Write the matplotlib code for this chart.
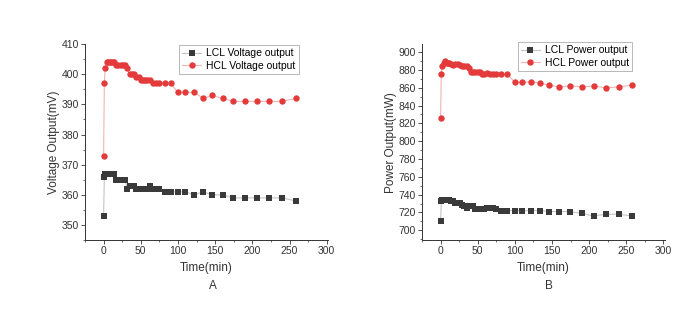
import matplotlib
matplotlib.use('Agg')
import matplotlib.pyplot as plt
from matplotlib.ticker import MultipleLocator

plt.rcParams['font.family'] = ['Liberation Sans', 'DejaVu Sans']

# Tempo das medidas (min)
tempo = [0, 1, 2, 4, 6, 8, 10, 12, 14, 17, 20, 23, 26, 29, 32, 35, 38, 41, 44, 47, 50,
         53, 56, 59, 62, 66, 70, 75, 82, 90, 100, 110, 122, 134, 146, 160, 174, 190,
         206, 222, 240, 258]

# Tensão (mV)
lcl_tensao = [353, 366, 367, 367, 367, 367, 367, 367, 367, 365, 365, 365, 365, 365, 362,
              363, 363, 363, 362, 362, 362, 362, 362, 362, 363, 362, 362, 362, 361, 361,
              361, 361, 360, 361, 360, 360, 359, 359, 359, 359, 359, 358]
hcl_tensao = [373, 397, 402, 404, 404, 404, 404, 404, 404, 403, 403, 403, 403, 403, 402,
              400, 400, 400, 399, 399, 398, 398, 398, 398, 398, 397, 397, 397, 397, 397,
              394, 394, 394, 392, 393, 392, 391, 391, 391, 391, 391, 392]

# Potência (mW)
lcl_potencia = [710, 733, 734, 734, 734, 734, 734, 734, 733, 733, 731, 731, 731, 728, 727,
                725, 727, 727, 727, 724, 724, 724, 724, 724, 725, 725, 725, 724, 722, 722,
                722, 722, 722, 722, 721, 721, 721, 719, 716, 718, 718, 716]
hcl_potencia = [826, 875, 885, 888, 890, 888, 888, 888, 887, 886, 887, 887, 886, 885, 885,
                884, 882, 878, 878, 878, 878, 878, 875, 876, 877, 875, 875, 875, 875, 875,
                866, 866, 867, 865, 863, 861, 862, 861, 862, 860, 861, 863]

cor_lcl = '#3a3a3a'
cor_hcl = '#e33b3b'
linha_lcl = '#c4c4c4'
linha_hcl = '#f2b4b4'

fig = plt.figure(figsize=(6.99, 3.13), dpi=100)
ax1 = fig.add_axes([0.1216, 0.233, 0.348, 0.626])
ax2 = fig.add_axes([0.6037, 0.233, 0.3476, 0.626])

def desenha(ax, y_lcl, y_hcl, nome, ylabel, ylim, major, minor, leg_x, leg_y):
    ax.plot(tempo, y_lcl, color=linha_lcl, marker='s', markersize=4, lw=0.8,
            markerfacecolor=cor_lcl, markeredgewidth=0, label='LCL ' + nome)
    ax.plot(tempo, y_hcl, color=linha_hcl, marker='o', markersize=4.6, lw=0.8,
            markerfacecolor=cor_hcl, markeredgewidth=0, label='HCL ' + nome)
    ax.set_xlim(-25, 302)
    ax.set_ylim(*ylim)
    ax.xaxis.set_major_locator(MultipleLocator(50))
    ax.xaxis.set_minor_locator(MultipleLocator(25))
    ax.yaxis.set_major_locator(MultipleLocator(major))
    ax.yaxis.set_minor_locator(MultipleLocator(minor))
    ax.tick_params(which='major', direction='out', length=3, width=0.6, labelsize=7.5,
                   colors='#333333', pad=1.5)
    ax.tick_params(which='minor', direction='out', length=1.6, width=0.5, colors='#333333')
    for s in ['top', 'right']:
        ax.spines[s].set_visible(False)
    for s in ['left', 'bottom']:
        ax.spines[s].set_linewidth(0.7)
        ax.spines[s].set_color('#333333')
    ax.set_xlabel('Time(min)', fontsize=8.5, color='#333333', labelpad=4)
    ax.set_ylabel(ylabel, fontsize=8.5, color='#333333', labelpad=1)
    leg = ax.legend(loc='upper left', bbox_to_anchor=(leg_x, leg_y), fontsize=7.5,
                    fancybox=False, edgecolor='#999999', borderpad=0.3,
                    handlelength=1.8, handletextpad=0.5, labelspacing=0.25,
                    borderaxespad=0)
    leg.get_frame().set_linewidth(0.6)

desenha(ax1, lcl_tensao, hcl_tensao, 'Voltage output', 'Voltage Output(mV)',
        (345, 410), 10, 5, 0.387, 0.995)
desenha(ax2, lcl_potencia, hcl_potencia, 'Power output', 'Power Output(mW)',
        (689, 909), 20, 10, 0.395, 1.01)

fig.text(0.305, 0.086, 'A', fontsize=8.5, ha='center', va='center', color='#333333')
fig.text(0.785, 0.086, 'B', fontsize=8.5, ha='center', va='center', color='#333333')

fig.savefig('out.png', dpi=100, facecolor='white')
